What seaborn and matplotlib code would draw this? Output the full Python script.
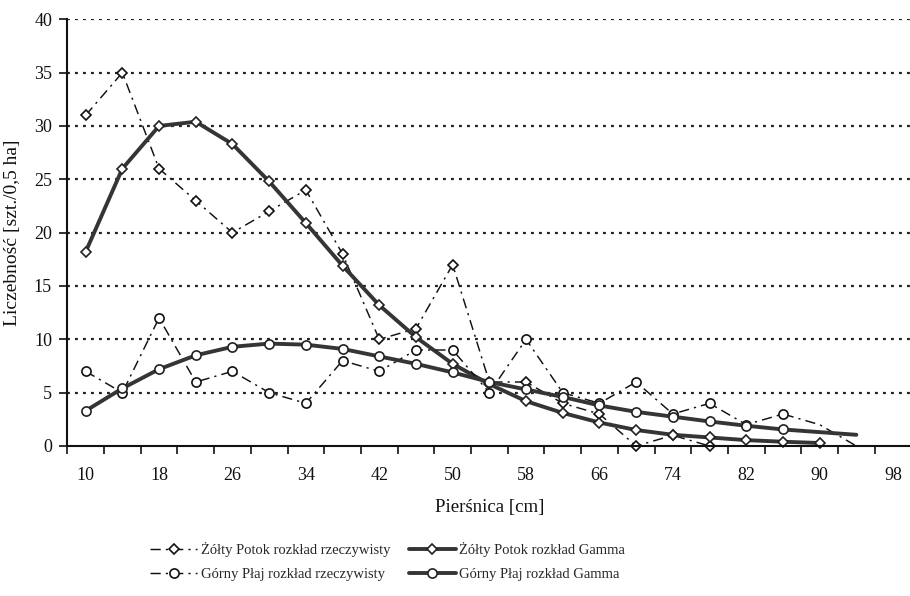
import matplotlib
matplotlib.use("Agg")
import matplotlib.pyplot as plt
import seaborn as sns
from matplotlib.lines import Line2D

# Diameter classes (cm) on the x axis
diameters = [10, 14, 18, 22, 26, 30, 34, 38, 42, 46, 50, 54, 58, 62, 66, 70, 74, 78, 82, 86, 90, 94, 98]
label_diameters = [10, 18, 26, 34, 42, 50, 58, 66, 74, 82, 90, 98]

# Żółty Potok – observed and fitted Gamma distribution
zp_real = [31, 35, 26, 23, 20, 22, 24, 18, 10, 11, 17, 6, 6, 4, 3, 0, 1, 0]
zp_gamma = [18.2, 26.0, 30.0, 30.4, 28.3, 24.8, 20.9, 16.9, 13.2, 10.2, 7.7, 5.8, 4.2,
            3.1, 2.2, 1.5, 1.05, 0.8, 0.55, 0.4, 0.28]

# Górny Płaj – observed and fitted Gamma distribution
gp_real = [7, 5, 12, 6, 7, 5, 4, 8, 7, 9, 9, 5, 10, 5, 4, 6, 3, 4, 2, 3, 2, 0]
gp_gamma = [3.3, 5.4, 7.2, 8.5, 9.3, 9.6, 9.5, 9.1, 8.4, 7.7, 6.9, 6.0, 5.3, 4.6,
            3.8, 3.2, 2.75, 2.3, 1.9, 1.55, 1.3, 1.05]

y_ticks = [0, 5, 10, 15, 20, 25, 30, 35, 40]

sns.set_style("white")
plt.rcParams["font.family"] = ["Liberation Serif", "DejaVu Serif"]

W, H = 910, 596
fig = plt.figure(figsize=(W / 100, H / 100), dpi=100)
ax_left, ax_right, ax_top, ax_bottom = 67.3, 911.4, 19.3, 446.0
ax = fig.add_axes([ax_left / W, (H - ax_bottom) / H, (ax_right - ax_left) / W, (ax_bottom - ax_top) / H])

GAMMA_COLOR = "#353535"
REAL_COLOR = "#111111"
DASHDOT = (7, 3.5, 1.5, 3.5)

real_style = dict(color=REAL_COLOR, linewidth=1.05, markerfacecolor="white",
                  markeredgecolor=REAL_COLOR, markeredgewidth=1.2)
gamma_style = dict(color=GAMMA_COLOR, linewidth=2.8, markerfacecolor="white",
                   markeredgecolor="#222222", markeredgewidth=1.2)


def draw(values, style, marker, msize, dashed, n_marked=None):
    x = diameters[:len(values)]
    sns.lineplot(x=x, y=values, ax=ax, marker=marker, markersize=msize, **style)
    line = ax.lines[-1]
    if dashed:
        line.set_dashes(DASHDOT)
    if n_marked is not None:
        line.set_markevery(list(range(n_marked)))
    line.set_clip_on(False)
    return line


draw(zp_real, real_style, "D", 4.8, True)
draw(zp_gamma, gamma_style, "D", 4.8, False)
draw(gp_real, real_style, "o", 6.6, True, n_marked=20)
draw(gp_gamma, gamma_style, "o", 6.6, False, n_marked=20)

# Axes: category-style x axis with ticks between classes
ax.set_xlim(8, 100)
ax.set_ylim(0, 40)
ax.set_xticks(list(range(8, 101, 4)))
ax.set_xticklabels([])
ax.set_xticks(label_diameters, minor=True)
ax.set_xticklabels([str(v) for v in label_diameters], minor=True)
ax.set_yticks(y_ticks)
ax.set_yticklabels([str(v) for v in y_ticks])

ax.tick_params(axis="x", which="major", direction="out", length=6, width=1.2, color="#111111", bottom=True)
ax.tick_params(axis="x", which="minor", length=0, labelsize=13, pad=15, colors="#111111")
ax.tick_params(axis="y", direction="out", length=6, width=1.2, color="#111111", left=True,
               labelsize=13, pad=5, labelcolor="#111111")

for side in ("top", "right"):
    ax.spines[side].set_visible(False)
for side in ("left", "bottom"):
    ax.spines[side].set_color("#111111")
    ax.spines[side].set_linewidth(1.5)

for v in y_ticks[1:]:
    ax.axhline(v, color="#222222", linewidth=1.6, linestyle=(0, (1.3, 2.3)), zorder=0.5)

ax.set_xlabel("Pierśnica [cm]", fontsize=13.5, labelpad=11, color="#111111")
ax.set_ylabel("Liczebność [szt./0,5 ha]", fontsize=14, labelpad=9, color="#111111")

# Legend laid out in two rows, two columns
h_zp_real = Line2D([], [], marker="D", markersize=4.8, dashes=DASHDOT, **real_style)
h_zp_gamma = Line2D([], [], marker="D", markersize=4.8, **gamma_style)
h_gp_real = Line2D([], [], marker="o", markersize=6.6, dashes=DASHDOT, **real_style)
h_gp_gamma = Line2D([], [], marker="o", markersize=6.6, **gamma_style)
fig.legend(
    [h_zp_real, h_gp_real, h_zp_gamma, h_gp_gamma],
    ["Żółty Potok rozkład rzeczywisty", "Górny Płaj rozkład rzeczywisty",
     "Żółty Potok rozkład Gamma", "Górny Płaj rozkład Gamma"],
    ncol=2, loc="upper left", bbox_to_anchor=(143 / W, 1 - 535 / H),
    frameon=False, fontsize=10.5, handlelength=3.2, handletextpad=0.25,
    columnspacing=1.3, labelspacing=0.75, borderpad=0, numpoints=1,
)

fig.savefig("out.png", dpi=100, facecolor="white")
